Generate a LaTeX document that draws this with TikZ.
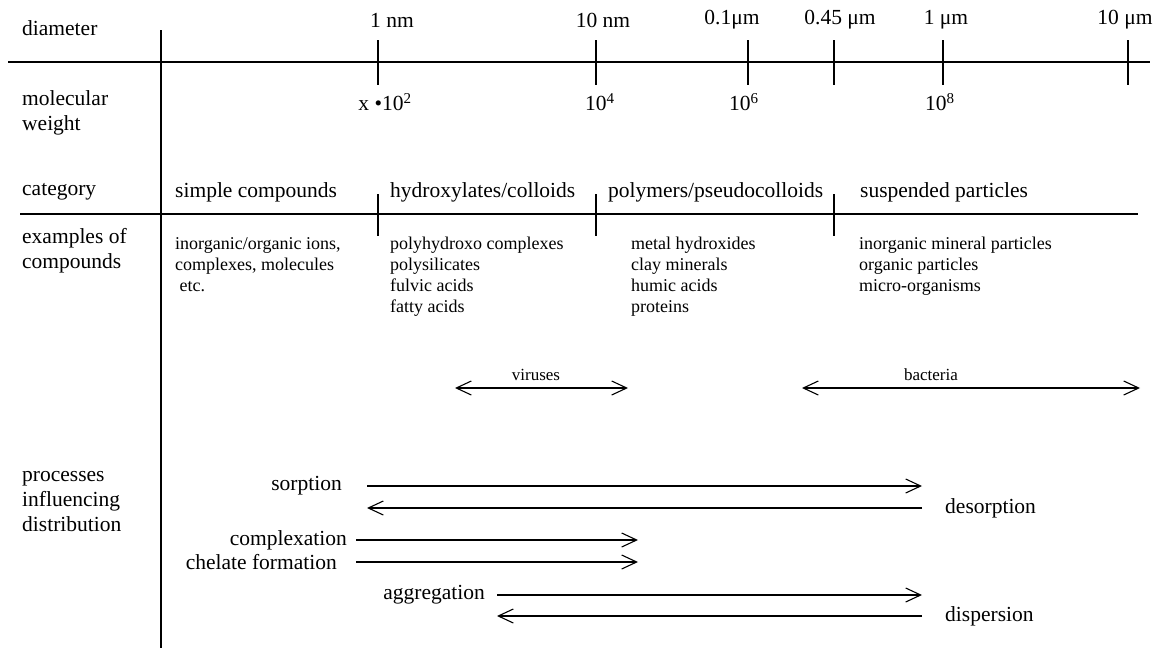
\documentclass[tikz,border=0pt]{standalone}
\usepackage{fontspec}
\setmainfont{Liberation Serif}
\usetikzlibrary{arrows.meta, positioning, calc}

\begin{document}
\begin{tikzpicture}[x=1pt,y=-1pt,
	axis/.style={line width=1.2pt},
	lbl/.style={inner sep=0pt, font=\fontsize{21.5}{25}\selectfont},
	rowlbl/.style={lbl, anchor=west, align=left},
	catlbl/.style={lbl, anchor=west},
	exlist/.style={inner sep=0pt, anchor=north west, align=left, font=\fontsize{18}{21}\selectfont},
	small/.style={inner sep=0pt, font=\fontsize{17}{20}\selectfont},
	proc/.style={line width=1.1pt, -{Straight Barb[length=15pt,width=14pt]}},
	sizespan/.style={line width=1.1pt, {Straight Barb[length=15pt,width=14pt]}-{Straight Barb[length=15pt,width=14pt]}}]
	\useasboundingbox (0,0) rectangle (1160,648);
	\node[rowlbl] (dia) at (22,28) {diameter};
	\node[rowlbl] (mw) at (22,113) {molecular\\weight};
	\node[rowlbl] (cat) at (22,192) {category};
	\node[rowlbl] (ex) at (22,251) {examples of\\compounds};
	\node[rowlbl] (pr) at (22,502) {processes\\influencing\\distribution};
	\draw[axis] (8,62) -- (1150,62);
	\draw[axis] (161,30) -- (161,648);
	\draw[axis] (20,214) -- (1138,214);
	\foreach \x in {378,596,748,834,943,1128}{\draw[axis] (\x,40) -- (\x,85);}
	\foreach \x in {378,596,834}{\draw[axis] (\x,194) -- (\x,236);}
	\node[lbl] (d1) at (392,20) {1 nm};
	\node[lbl] (d2) at (603,20) {10 nm};
	\node[lbl] (d3) at (732,20) {0.1μm};
	\node[lbl] (d4) at (840,20) {0.45 μm};
	\node[lbl] (d5) at (946,20) {1 μm};
	\node[lbl] (d6) at (1125,20) {10 μm};
	\node[lbl] (m1) at (385,102) {x •10\textsuperscript{2}};
	\node[lbl] (m2) at (600,102) {10\textsuperscript{4}};
	\node[lbl] (m3) at (744,102) {10\textsuperscript{6}};
	\node[lbl] (m4) at (940,102) {10\textsuperscript{8}};
	\node[catlbl] (simple) at (175,192) {simple compounds};
	\node[catlbl] (hydrox) at (390,192) {hydroxylates/colloids};
	\node[catlbl] (polym) at (608,192) {polymers/pseudocolloids};
	\node[catlbl] (susp) at (860,192) {suspended particles};
	\node[exlist] (exsimple) at (175,237) {inorganic/organic ions,\\complexes, molecules\\\ etc.};
	\node[exlist] (exhydrox) at (390,237) {polyhydroxo complexes\\polysilicates\\fulvic acids\\fatty acids};
	\node[exlist] (expolym) at (631,237) {metal hydroxides\\clay minerals\\humic acids\\proteins};
	\node[exlist] (exsusp) at (859,237) {inorganic mineral particles\\organic particles\\micro-organisms};
	\coordinate (vL) at (455,388);
	\coordinate (vR) at (628,388);
	\coordinate (bL) at (802,388);
	\coordinate (bR) at (1140,388);
	\draw[sizespan] (vL) -- (vR);
	\draw[sizespan] (bL) -- (bR);
	\node[small] (vir) at (536,375) {viruses};
	\node[small] (bac) at (931,375) {bacteria};
	\coordinate (s1) at (367,486);
	\coordinate (s2) at (922,486);
	\coordinate (ds1) at (922,508);
	\coordinate (ds2) at (367,508);
	\coordinate (c1) at (356,540);
	\coordinate (c2) at (638,540);
	\coordinate (h1) at (356,562);
	\coordinate (h2) at (638,562);
	\coordinate (g1) at (497,595);
	\coordinate (g2) at (922,595);
	\coordinate (p1) at (922,616);
	\coordinate (p2) at (497,616);
	\draw[proc] (s1) -- (s2);
	\draw[proc] (ds1) -- (ds2);
	\draw[proc] (c1) -- (c2);
	\draw[proc] (h1) -- (h2);
	\draw[proc] (g1) -- (g2);
	\draw[proc] (p1) -- (p2);
	\node[lbl, left=25pt of s1] (sorp) {sorption};
	\node[lbl, right=23pt of ds1] (desorp) {desorption};
	\node[lbl, left=9pt of c1] (compl) {complexation};
	\node[lbl, left=19pt of h1] (chel) {chelate formation};
	\node[lbl, left=12pt of g1] (aggr) {aggregation};
	\node[lbl, right=23pt of p1] (disp) {dispersion};
\end{tikzpicture}
\end{document}
